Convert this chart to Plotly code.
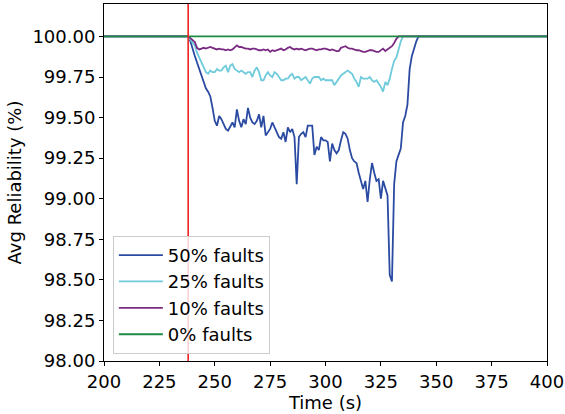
import plotly.graph_objects as go

# ---- data ----
fault_time = 238
window = list(range(238, 346))
times = [200] + window + [400]

blue_50 = [100.0, 99.97, 99.92, 99.88, 99.84, 99.80, 99.76, 99.71, 99.68, 99.66,
           99.63, 99.56, 99.48, 99.45, 99.51, 99.49, 99.46, 99.43, 99.42, 99.45,
           99.47, 99.44, 99.55, 99.48, 99.44, 99.49, 99.46, 99.56, 99.50, 99.47,
           99.46, 99.48, 99.52, 99.44, 99.51, 99.39, 99.41, 99.43, 99.47, 99.44,
           99.41, 99.38, 99.37, 99.41, 99.35, 99.44, 99.41, 99.43, 99.38, 99.09,
           99.38, 99.40, 99.41, 99.38, 99.45, 99.45, 99.45, 99.27, 99.32, 99.30,
           99.38, 99.36, 99.36, 99.35, 99.23, 99.34, 99.30, 99.28, 99.30, 99.36,
           99.41, 99.40, 99.37, 99.30, 99.25, 99.23, 99.22, 99.16, 99.10, 99.06,
           99.11, 98.98, 99.12, 99.22, 99.16, 99.11, 99.12, 99.00, 99.11, 99.06,
           99.02, 98.53, 98.49, 99.09, 99.23, 99.27, 99.31, 99.47, 99.51, 99.58,
           99.80, 99.88, 99.93, 99.97, 100.0, 100.0, 100.0, 100.0]

cyan_25 = [100.0, 99.98, 99.96, 99.945, 99.90, 99.87, 99.83, 99.80, 99.78, 99.77,
           99.79, 99.78, 99.78, 99.80, 99.79, 99.79, 99.81, 99.82, 99.78, 99.82,
           99.83, 99.80, 99.79, 99.78, 99.79, 99.78, 99.77, 99.78, 99.78, 99.75,
           99.79, 99.81, 99.78, 99.73, 99.73, 99.76, 99.78, 99.76, 99.75, 99.78,
           99.77, 99.75, 99.73, 99.73, 99.74, 99.74, 99.76, 99.77, 99.74, 99.75,
           99.75, 99.73, 99.74, 99.75, 99.73, 99.71, 99.74, 99.75, 99.75, 99.75,
           99.73, 99.74, 99.73, 99.73, 99.73, 99.73, 99.70, 99.72, 99.74, 99.76,
           99.77, 99.78, 99.79, 99.78, 99.77, 99.74, 99.72, 99.69, 99.75, 99.74,
           99.74, 99.74, 99.75, 99.73, 99.72, 99.73, 99.71, 99.69, 99.66, 99.72,
           99.70, 99.74, 99.80, 99.85, 99.87, 99.92, 99.97, 100.0, 100.0, 100.0,
           100.0, 100.0, 100.0, 100.0, 100.0, 100.0, 100.0, 100.0]

purple_10 = [100.0, 99.99, 99.98, 99.965, 99.93, 99.92, 99.925, 99.93, 99.925, 99.93,
             99.935, 99.93, 99.925, 99.92, 99.925, 99.92, 99.92, 99.915, 99.92, 99.915,
             99.92, 99.93, 99.945, 99.935, 99.935, 99.93, 99.925, 99.925, 99.92, 99.925,
             99.925, 99.92, 99.915, 99.915, 99.92, 99.915, 99.92, 99.905, 99.915, 99.91,
             99.915, 99.92, 99.925, 99.915, 99.92, 99.93, 99.935, 99.925, 99.92, 99.925,
             99.92, 99.925, 99.92, 99.915, 99.92, 99.925, 99.925, 99.92, 99.915, 99.92,
             99.92, 99.925, 99.925, 99.92, 99.915, 99.92, 99.915, 99.91, 99.91, 99.93,
             99.935, 99.94, 99.93, 99.925, 99.925, 99.92, 99.915, 99.915, 99.91, 99.905,
             99.905, 99.91, 99.915, 99.915, 99.91, 99.905, 99.905, 99.915, 99.925, 99.91,
             99.92, 99.925, 99.94, 99.96, 99.985, 100.0, 100.0, 100.0, 100.0, 100.0,
             100.0, 100.0, 100.0, 100.0, 100.0, 100.0, 100.0, 100.0]

green_0 = [100.0] * len(window)

series_names = ["50% faults", "25% faults", "10% faults", "0% faults"]
series_values = [blue_50, cyan_25, purple_10, green_0]
series_colors = ["#2b4ba2", "#6fcbdb", "#7a2a83", "#1f8a44"]

x_ticks = [200, 225, 250, 275, 300, 325, 350, 375, 400]
y_ticks = [98.00, 98.25, 98.50, 98.75, 99.00, 99.25, 99.50, 99.75, 100.00]

# ---- figure ----
fig = go.Figure()
for name, vals, col in zip(series_names, series_values, series_colors):
    fig.add_trace(go.Scatter(
        x=times, y=[100.0] + vals + [100.0], mode="lines", name=name,
        line=dict(color=col, width=1.8)))

fig.add_shape(type="line", x0=fault_time, x1=fault_time, xref="x",
              y0=0, y1=1, yref="paper",
              line=dict(color="#ee2222", width=1.6), layer="above")

axis_common = dict(showline=True, linecolor="black", linewidth=1, mirror=True,
                   ticks="outside", ticklen=4, tickcolor="black", showgrid=False,
                   zeroline=False, automargin=False,
                   tickfont=dict(size=18, color="black"))

fig.update_layout(
    width=565, height=414,
    margin=dict(l=104, r=18, t=4, b=53),
    paper_bgcolor="white", plot_bgcolor="white",
    font=dict(family="DejaVu Sans", size=18, color="black"),
    xaxis=dict(range=[200, 400], tickvals=x_ticks,
               title=dict(text="Time (s)", font=dict(size=18), standoff=3),
               **axis_common),
    yaxis=dict(range=[98.0, 100.2], tickvals=y_ticks, tickformat=".2f",
               title=dict(text="Avg Reliability (%)", font=dict(size=18), standoff=6),
               **axis_common),
    legend=dict(x=0.02, y=0.02, xanchor="left", yanchor="bottom",
                bgcolor="rgba(255,255,255,0.8)", bordercolor="#cccccc",
                borderwidth=1, font=dict(size=18), tracegroupgap=0,
                itemwidth=44),
    showlegend=True,
)

fig.write_html("out.html", config={"displayModeBar": False},
               post_script="document.body.style.margin='0px';")
